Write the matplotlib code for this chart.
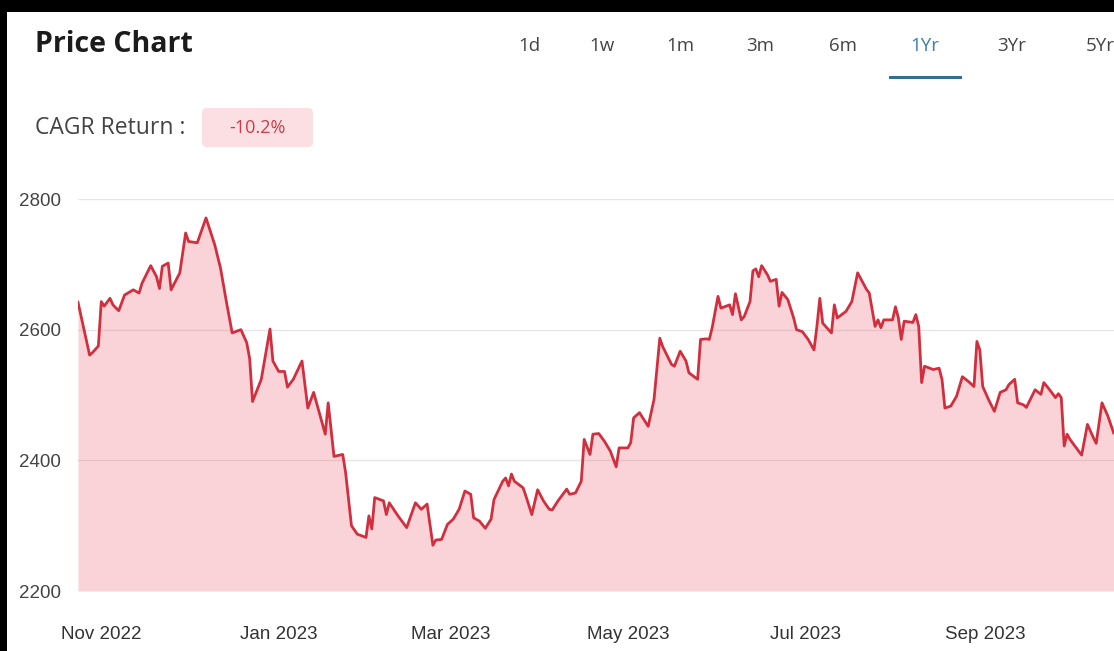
import matplotlib
matplotlib.use("Agg")
import matplotlib.pyplot as plt
import matplotlib.dates as mdates
from matplotlib.patches import Rectangle, FancyBboxPatch
import pandas as pd

plt.rcParams['font.family'] = ['Liberation Sans', 'DejaVu Sans']

# price series
dates = [
    "2022-10-24", "2022-10-28", "2022-10-29", "2022-10-31", "2022-11-01", "2022-11-02",
    "2022-11-04", "2022-11-05", "2022-11-07", "2022-11-09", "2022-11-12", "2022-11-14",
    "2022-11-15", "2022-11-18", "2022-11-20", "2022-11-21", "2022-11-22", "2022-11-24",
    "2022-11-25", "2022-11-28", "2022-11-30", "2022-12-01", "2022-12-04", "2022-12-07",
    "2022-12-10", "2022-12-12", "2022-12-14", "2022-12-16", "2022-12-19", "2022-12-21",
    "2022-12-22", "2022-12-23", "2022-12-26", "2022-12-29", "2022-12-30", "2023-01-01",
    "2023-01-03", "2023-01-04", "2023-01-06", "2023-01-09", "2023-01-11", "2023-01-13",
    "2023-01-17", "2023-01-18", "2023-01-20", "2023-01-23", "2023-01-24", "2023-01-26",
    "2023-01-28", "2023-01-31", "2023-02-01", "2023-02-02", "2023-02-03", "2023-02-06",
    "2023-02-07", "2023-02-08", "2023-02-11", "2023-02-14", "2023-02-15", "2023-02-17",
    "2023-02-19", "2023-02-21", "2023-02-23", "2023-02-24", "2023-02-26", "2023-02-28",
    "2023-03-02", "2023-03-04", "2023-03-06", "2023-03-08", "2023-03-09", "2023-03-11",
    "2023-03-13", "2023-03-15", "2023-03-16", "2023-03-19", "2023-03-20", "2023-03-21",
    "2023-03-22", "2023-03-23", "2023-03-26", "2023-03-27", "2023-03-29", "2023-03-31",
    "2023-04-02", "2023-04-04", "2023-04-05", "2023-04-07", "2023-04-10", "2023-04-11",
    "2023-04-13", "2023-04-15", "2023-04-16", "2023-04-18", "2023-04-19", "2023-04-21",
    "2023-04-23", "2023-04-25", "2023-04-27", "2023-04-28", "2023-05-01", "2023-05-02",
    "2023-05-03", "2023-05-05", "2023-05-08", "2023-05-10", "2023-05-12", "2023-05-13",
    "2023-05-16", "2023-05-17", "2023-05-19", "2023-05-21", "2023-05-22", "2023-05-25",
    "2023-05-26", "2023-05-28", "2023-05-29", "2023-05-30", "2023-06-01", "2023-06-02",
    "2023-06-05", "2023-06-06", "2023-06-07", "2023-06-09", "2023-06-10", "2023-06-12",
    "2023-06-13", "2023-06-14", "2023-06-15", "2023-06-16", "2023-06-18", "2023-06-19",
    "2023-06-21", "2023-06-22", "2023-06-23", "2023-06-25", "2023-06-27", "2023-06-28",
    "2023-06-30", "2023-07-02", "2023-07-04", "2023-07-05", "2023-07-06", "2023-07-07",
    "2023-07-10", "2023-07-11", "2023-07-12", "2023-07-15", "2023-07-17", "2023-07-19",
    "2023-07-22", "2023-07-23", "2023-07-25", "2023-07-26", "2023-07-27", "2023-07-28",
    "2023-07-31", "2023-08-01", "2023-08-02", "2023-08-03", "2023-08-04", "2023-08-07",
    "2023-08-08", "2023-08-09", "2023-08-10", "2023-08-11", "2023-08-14", "2023-08-16",
    "2023-08-17", "2023-08-18", "2023-08-20", "2023-08-22", "2023-08-24", "2023-08-26",
    "2023-08-28", "2023-08-29", "2023-08-30", "2023-08-31", "2023-09-02", "2023-09-04",
    "2023-09-06", "2023-09-08", "2023-09-09", "2023-09-11", "2023-09-12", "2023-09-14",
    "2023-09-15", "2023-09-18", "2023-09-20", "2023-09-21", "2023-09-23", "2023-09-25",
    "2023-09-26", "2023-09-27", "2023-09-28", "2023-09-29", "2023-09-30", "2023-10-04",
    "2023-10-06", "2023-10-08", "2023-10-09", "2023-10-11", "2023-10-13", "2023-10-15",
]
prices = [
    2642, 2561, 2565, 2575, 2643, 2636,
    2648, 2638, 2629, 2653, 2661, 2656,
    2671, 2698, 2681, 2663, 2697, 2702,
    2661, 2687, 2748, 2735, 2733, 2771,
    2730, 2694, 2643, 2595, 2600, 2580,
    2556, 2490, 2524, 2601, 2552, 2536,
    2536, 2512, 2524, 2552, 2480, 2504,
    2440, 2488, 2406, 2409, 2381, 2300,
    2287, 2282, 2315, 2295, 2343, 2338,
    2317, 2335, 2315, 2297, 2310, 2335,
    2325, 2333, 2270, 2278, 2279, 2302,
    2310, 2325, 2353, 2348, 2312, 2307,
    2296, 2310, 2340, 2368, 2373, 2361,
    2379, 2368, 2358, 2345, 2317, 2355,
    2338, 2325, 2324, 2338, 2356, 2348,
    2350, 2368, 2432, 2409, 2440, 2441,
    2429, 2414, 2390, 2419, 2419, 2427,
    2465, 2473, 2452, 2493, 2587, 2574,
    2547, 2544, 2567, 2552, 2534, 2524,
    2585, 2586, 2585, 2603, 2651, 2633,
    2638, 2623, 2655, 2615, 2620, 2643,
    2690, 2693, 2681, 2698, 2684, 2674,
    2677, 2636, 2657, 2646, 2618, 2600,
    2597, 2585, 2569, 2605, 2648, 2610,
    2595, 2638, 2618, 2628, 2643, 2687,
    2662, 2656, 2605, 2615, 2603, 2615,
    2615, 2635, 2618, 2585, 2613, 2611,
    2623, 2605, 2519, 2544, 2539, 2541,
    2524, 2480, 2483, 2498, 2528, 2521,
    2513, 2582, 2569, 2513, 2493, 2475,
    2504, 2508, 2516, 2524, 2488, 2485,
    2481, 2508, 2501, 2519, 2508, 2496,
    2502, 2496, 2422, 2440, 2432, 2408,
    2455, 2435, 2426, 2488, 2468, 2442,
]
y_ticks = [2200, 2400, 2600, 2800]
tabs = ["1d", "1w", "1m", "3m", "6m", "1Yr", "3Yr", "5Yr"]
active_tab = "1Yr"
cagr_text = "-10.2%"

x = pd.to_datetime(dates)

W, H = 1114, 651
fig = plt.figure(figsize=(W / 100, H / 100), dpi=100, facecolor="black")

# white page (black strip on top and left like the screenshot)
fig.patches.append(Rectangle((7 / 100, 0), (W - 7) / 100, (H - 12) / 100,
                             transform=fig.dpi_scale_trans, facecolor="white",
                             edgecolor="none", zorder=-10))

ui_font = ["Open Sans", "DejaVu Sans"]

# header
fig.text(35 / W, 1 - 45 / H, "Price Chart", fontsize=20.5, fontweight="bold",
         family=ui_font, color="#1b1b1b", va="center", ha="left")
tab_x = [529, 602, 680, 760, 843, 925, 1012, 1100]
for t, tx in zip(tabs, tab_x):
    fig.text(tx / W, 1 - 46 / H, t, fontsize=13.5, family=ui_font,
             color="#3a7fb0" if t == active_tab else "#444444", ha="center", va="center")
fig.patches.append(Rectangle((889 / 100, (H - 78.5) / 100), 73 / 100, 2.5 / 100,
                             transform=fig.dpi_scale_trans, facecolor="#2f6f90",
                             edgecolor="none"))

fig.text(35 / W, 1 - 128 / H, "CAGR Return :", fontsize=16.5,
         family=ui_font, color="#444444", va="center", ha="left")
fig.patches.append(FancyBboxPatch((202 / 100, (H - 147) / 100), 111 / 100, 39 / 100,
                                  boxstyle="round,pad=0,rounding_size=0.05",
                                  transform=fig.dpi_scale_trans, facecolor="#fbdfe2",
                                  edgecolor="none"))
fig.text(257 / W, 1 - 128 / H, cagr_text, fontsize=13, family=ui_font,
         color="#d03a48", va="center", ha="center")

# chart area
ax = fig.add_axes([78 / W, 1 - 591 / H, (W - 78) / W, (591 - 199) / H])
ax.set_facecolor("none")
ax.fill_between(x, prices, y_ticks[0], color="#e8394a", alpha=0.22, lw=0, zorder=2)
ax.plot(x, prices, color="#d22f3e", lw=2, zorder=3, solid_joinstyle="round")

ax.set_ylim(y_ticks[0], y_ticks[-1])
ax.set_xlim(x[0], pd.Timestamp("2023-10-15 03:00"))
ax.set_yticks(y_ticks)
ax.yaxis.grid(True, color="#e6e6e6", lw=1, zorder=1)
ax.set_axisbelow(True)
ax.xaxis.set_major_locator(mdates.MonthLocator(bymonth=[11, 1, 3, 5, 7, 9]))
ax.xaxis.set_major_formatter(mdates.DateFormatter("%b %Y"))
ax.tick_params(axis="y", length=0, pad=12, labelsize=13.5, labelcolor="#444444")
ax.tick_params(axis="x", length=0, pad=25, labelsize=13.5, labelcolor="#333333")
for s in ax.spines.values():
    s.set_visible(False)

fig.savefig("out.png", dpi=100, facecolor=fig.get_facecolor())
